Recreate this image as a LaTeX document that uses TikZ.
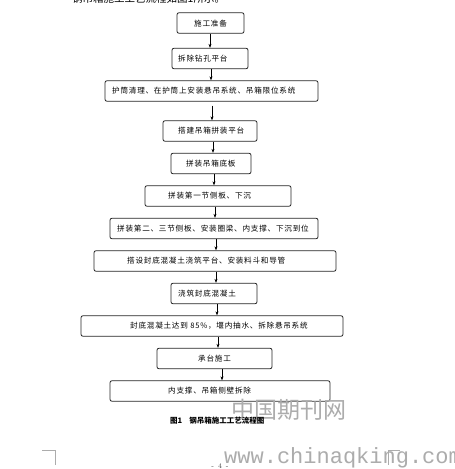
\documentclass[tikz,border=0pt]{standalone}
\usepackage{fontspec}
\usetikzlibrary{arrows.meta}
\newfontfamily\cjk[LetterSpace=10]{Noto Sans CJK SC}
\newfontfamily\cjkplain{Noto Sans CJK SC}
\newfontfamily\urlfont{Liberation Mono}
\definecolor{wm}{RGB}{172,172,172}
\tikzset{
  stepbox/.style={draw=black!85, line width=0.8pt, rounded corners=2pt, minimum height=20.5pt, inner sep=0pt},
  steptext/.style={anchor=west, inner sep=0pt, font=\cjk\fontsize{7.6pt}{8pt}\selectfont},
  arr/.style={line width=0.6pt, -{Stealth[length=4pt,width=3pt]}},
}
\begin{document}
\begin{tikzpicture}[x=1pt,y=-1pt]
\useasboundingbox (0,0) rectangle (455,469);
\fill[white] (0,0) rectangle (455,469);
\clip (0,0) rectangle (455,469);
% top cut text
\node[anchor=west, inner sep=0pt, font=\cjkplain\fontsize{10.5pt}{11pt}\selectfont] (toptext) at (72,-1.5) {钢吊箱施工工艺流程如图1所示。};
% boxes
\node[stepbox, minimum width=67pt] (b1) at (210.5,23) {};
\node[stepbox, minimum width=76pt] (b2) at (210,58.5) {};
\node[stepbox, minimum width=213pt] (b3) at (211.5,91) {};
\node[stepbox, minimum width=94pt] (b4) at (210,131) {};
\node[stepbox, minimum width=80pt] (b5) at (211,163.5) {};
\node[stepbox, minimum width=146pt] (b6) at (218,196) {};
\node[stepbox, minimum width=208pt] (b7) at (214,228.5) {};
\node[stepbox, minimum width=242pt] (b8) at (215,261) {};
\node[stepbox, minimum width=86pt] (b9) at (214,293.5) {};
\node[stepbox, minimum width=262pt] (b10) at (212,326) {};
\node[stepbox, minimum width=115pt] (b11) at (214.5,358.5) {};
\node[stepbox, minimum width=220pt] (b12) at (220,391) {};
% texts
\node[steptext] (t1) at (194,23.3) {施工准备};
\node[steptext] (t2) at (178,58.3) {拆除钻孔平台};
\node[steptext] (t3) at (112,90.7) {护筒清理、在护筒上安装悬吊系统、吊箱限位系统};
\node[steptext] (t4) at (178,131) {搭建吊箱拼装平台};
\node[steptext] (t5) at (186,163.3) {拼装吊箱底板};
\node[steptext] (t6) at (168,196) {拼装第一节侧板、下沉};
\node[steptext] (t7) at (117,228.7) {拼装第二、三节侧板、安装圈梁、内支撑、下沉到位};
\node[steptext] (t8) at (127,261) {搭设封底混凝土浇筑平台、安装料斗和导管};
\node[steptext] (t9) at (178,293.3) {浇筑封底混凝土};
\node[steptext] (t10) at (130,326) {封底混凝土达到 85\%，堰内抽水、拆除悬吊系统};
\node[steptext] (t11) at (198,358.3) {承台施工};
\node[steptext] (t12) at (168,390.7) {内支撑、吊箱侧壁拆除};
% arrows
\draw[arr] (b1.south -| 210,0) -- (b2.north -| 210,0);
\draw[arr] (b2.south -| 211,0) -- (b3.north -| 211,0);
\draw[arr, shorten <=4pt] (b3.south -| 212,0) -- (b4.north -| 212,0);
\draw[arr] (b4.south -| 213,0) -- (b5.north -| 213,0);
\draw[arr] (b5.south -| 214,0) -- (b6.north -| 214,0);
\draw[arr] (b6.south -| 215,0) -- (b7.north -| 215,0);
\draw[arr] (b7.south -| 216,0) -- (b8.north -| 216,0);
\draw[arr] (b8.south -| 216,0) -- (b9.north -| 216,0);
\draw[arr] (b9.south -| 217,0) -- (b10.north -| 217,0);
\draw[arr] (b10.south -| 218,0) -- (b11.north -| 218,0);
\draw[arr] (b11.south -| 222,0) -- (b12.north -| 222,0);
% watermark
\node[inner sep=0pt, text=wm, font=\cjkplain\fontsize{23pt}{24pt}\selectfont] (wm1) at (288.5,410) {中国期刊网};
% caption
\node[anchor=west, inner sep=0pt, font=\cjkplain\bfseries\fontsize{7.5pt}{8pt}\selectfont] (cap) at (170,420.5) {图1\hspace{7pt}钢吊箱施工工艺流程图};
% url watermark
\node[anchor=west, inner sep=0pt, text=wm, font=\urlfont\fontsize{22pt}{23pt}\selectfont] (url) at (224,458) {www.chinaqking.com};
% page number
\node[inner sep=0pt, text=black!70, font=\fontsize{7pt}{8pt}\selectfont] (pg) at (220,466) {-\hspace{4pt}4\hspace{4pt}-};
% corner marks
\draw[wm, line width=0.6pt] (42,450) -- (55.5,450) -- (55.5,465);
\draw[wm, line width=0.6pt] (400,450) -- (388.5,450) -- (388.5,465);
\end{tikzpicture}
\end{document}
